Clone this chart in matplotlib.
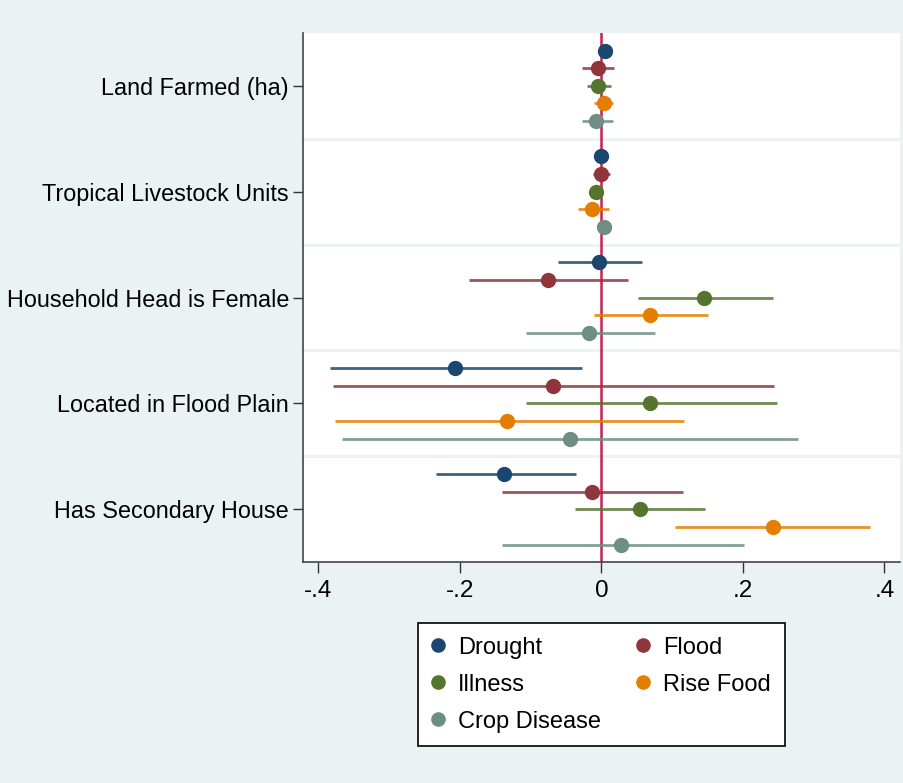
import numpy as np
import matplotlib
matplotlib.use("Agg")
import matplotlib.pyplot as plt
from matplotlib.lines import Line2D

plt.rcParams['font.family'] = ['Liberation Sans', 'DejaVu Sans']

# coefficients with 95% confidence intervals, one list per shock
categories = ["Land Farmed (ha)", "Tropical Livestock Units", "Household Head is Female",
              "Located in Flood Plain", "Has Secondary House"]
series = ["Drought", "Flood", "Illness", "Rise Food", "Crop Disease"]

drought = [0.005, 0.0, -0.003, -0.207, -0.137]
drought_lo = [-0.004, -0.003, -0.062, -0.383, -0.234]
drought_hi = [0.015, 0.004, 0.058, -0.028, -0.036]

flood = [-0.005, -0.001, -0.075, -0.069, -0.014]
flood_lo = [-0.028, -0.012, -0.187, -0.380, -0.141]
flood_hi = [0.018, 0.012, 0.038, 0.244, 0.115]

illness = [-0.005, -0.008, 0.145, 0.068, 0.054]
illness_lo = [-0.021, -0.015, 0.051, -0.107, -0.037]
illness_hi = [0.013, 0.0, 0.243, 0.248, 0.147]

rise_food = [0.003, -0.014, 0.069, -0.133, 0.242]
rise_food_lo = [-0.010, -0.033, -0.011, -0.377, 0.104]
rise_food_hi = [0.017, 0.010, 0.151, 0.116, 0.380]

crop = [-0.008, 0.003, -0.017, -0.045, 0.028]
crop_lo = [-0.027, -0.002, -0.107, -0.366, -0.141]
crop_hi = [0.016, 0.007, 0.076, 0.278, 0.201]

xticks = [-0.4, -0.2, 0, 0.2, 0.4]
xtick_labels = ["-.4", "-.2", "0", ".2", ".4"]

colors = ["#1a476f", "#90353b", "#55752f", "#e37e00", "#6e8e84"]
bg = "#eaf2f3"

coefs = [drought, flood, illness, rise_food, crop]
los = [drought_lo, flood_lo, illness_lo, rise_food_lo, crop_lo]
his = [drought_hi, flood_hi, illness_hi, rise_food_hi, crop_hi]

fig = plt.figure(figsize=(9.04, 7.83), dpi=100, facecolor=bg)
ax = fig.add_axes([0.335, 0.282, 0.6606, 0.676])
ax.set_facecolor("white")

base = np.arange(len(categories))
step = 1 / 6.0

# light separators between the groups
for y in base[:-1] + 0.5:
    ax.axhline(y, color=bg, lw=2.2, zorder=1)

ax.axvline(0, color="#c8234f", lw=1.8, zorder=2)

for j in range(len(series)):
    y = base + (j - 2) * step
    ax.hlines(y, los[j], his[j], color=colors[j], lw=2.0, alpha=0.85, zorder=3)
    ax.plot(coefs[j], y, "o", color=colors[j], ms=10, zorder=4)

ax.set_xlim(-0.422, 0.422)
ax.set_ylim(4.5, -0.5)
ax.set_yticks(base)
ax.set_yticklabels(categories, fontsize=16.8)
ax.set_xticks(xticks)
ax.set_xticklabels(xtick_labels, fontsize=17.5)
ax.tick_params(axis="y", length=7, width=1, pad=3, color="#333333")
ax.tick_params(axis="x", length=8, width=1, pad=5, color="#333333")

for s in ["top", "right"]:
    ax.spines[s].set_visible(False)
for s in ["left", "bottom"]:
    ax.spines[s].set_color("#444444")
    ax.spines[s].set_linewidth(1.2)

order = [0, 2, 4, 1, 3]
handles = [Line2D([], [], marker="o", ls="", color=colors[j], ms=9.5) for j in order]
labels = [series[j] for j in order]
leg = ax.legend(handles, labels, ncol=2, loc="upper center", bbox_to_anchor=(0.5, -0.115),
                fontsize=17, frameon=True, fancybox=False, edgecolor="black",
                facecolor="white", framealpha=1, borderaxespad=0,
                handlelength=0.5, handletextpad=0.6, columnspacing=1.55,
                labelspacing=0.64, borderpad=0.57)
leg.get_frame().set_linewidth(1.2)

fig.savefig("out.png", dpi=100, facecolor=bg)
